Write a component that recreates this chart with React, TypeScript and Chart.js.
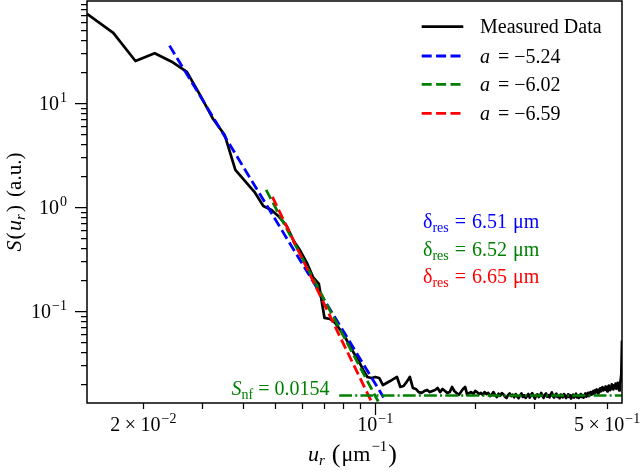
import { useEffect, useRef } from "react";
import { Chart, registerables } from "chart.js";

Chart.register(...registerables);

// Spatial-frequency grid: bin index k -> u = k * BIN_WIDTH (µm^-1)
const BIN_WIDTH = 0.002705;
const FIRST_BIN = 5;

// Measured radial power spectrum S(u_r), one value per frequency bin (k = 5 … 205)
const measuredS: number[] = [
  // k = 5 … 40
  71.7, 47.1, 25.3, 30.0, 24.9, 19.9, 11.7, 7.0, 4.92, 2.27,
  1.76, 1.39, 1.02, 0.935, 0.8, 0.656, 0.471, 0.377, 0.29, 0.212,
  0.182, 0.0857, 0.0838, 0.0767, 0.0656, 0.0562, 0.046, 0.0386, 0.033, 0.0271,
  0.0232, 0.0227, 0.0232, 0.0227, 0.0194, 0.0203,
  // k = 41 … 80
  0.0212, 0.0222, 0.0232, 0.0186, 0.019, 0.0208, 0.0232, 0.0182, 0.0178, 0.0166,
  0.0163, 0.017, 0.0174, 0.0166, 0.017, 0.0174, 0.0182, 0.0166, 0.0178, 0.017,
  0.0163, 0.0166, 0.0186, 0.017, 0.0163, 0.0156, 0.0166, 0.0178, 0.0186, 0.0156,
  0.0163, 0.0166, 0.0159, 0.017, 0.0166, 0.0159, 0.0163, 0.0156, 0.0166, 0.0159,
  // k = 81 … 120
  0.0163, 0.0152, 0.0157, 0.0166, 0.0155, 0.0149, 0.016, 0.0153, 0.0162, 0.0158,
  0.015, 0.0146, 0.0156, 0.0161, 0.0152, 0.0157, 0.0148, 0.0159, 0.0151, 0.0145,
  0.0154, 0.0161, 0.0149, 0.0155, 0.0146, 0.0152, 0.0159, 0.0147, 0.0156, 0.0162,
  0.0151, 0.0144, 0.0155, 0.0158, 0.0149, 0.0153, 0.0163, 0.0152, 0.0146, 0.0157,
  // k = 121 … 165
  0.0161, 0.015, 0.0155, 0.0148, 0.0158, 0.0165, 0.0151, 0.0147, 0.0156, 0.016,
  0.0149, 0.0153, 0.0145, 0.0157, 0.0152, 0.0148, 0.0159, 0.0154, 0.0146, 0.0151,
  0.0158, 0.0149, 0.0155, 0.0144, 0.0152, 0.0157, 0.0147, 0.0153, 0.016, 0.0148,
  0.0154, 0.0146, 0.0151, 0.0159, 0.0149, 0.0155, 0.0147, 0.0153, 0.0161, 0.015,
  0.0156, 0.0163, 0.0152, 0.0158, 0.0166,
  // k = 166 … 205
  0.0157, 0.0164, 0.017, 0.016, 0.0172, 0.0165, 0.0176, 0.0168, 0.0161, 0.0174,
  0.018, 0.0169, 0.0177, 0.0185, 0.0172, 0.0181, 0.0175, 0.0188, 0.0178, 0.0169,
  0.0184, 0.0192, 0.018, 0.0174, 0.0189, 0.0197, 0.0182, 0.0176, 0.0193, 0.0185,
  0.02, 0.0179, 0.0191, 0.0204, 0.0186, 0.0172, 0.0198, 0.0213, 0.0245, 0.052,
];

// Power-law fits S = C * u^a : slope, colour, anchor point (u, S) and end frequency
const fitSlopes = [-5.24, -6.02, -6.59];
const fitLabels = ["−5.24", "−6.02", "−6.59"];
const fitColors = ["#0000ff", "#008000", "#ff0000"];
const fitStartU = [0.02398, 0.0469, 0.04898];
const fitStartS = [35.56, 1.457, 1.248];
const fitEndU = [0.106, 0.1021, 0.0975];

// Resolution estimated from each fit
const resolutionLabels = ["6.51", "6.52", "6.65"];

// Noise floor
const NOISE_FLOOR = 0.0154;
const noiseFloorLabel = "0.0154";
const noiseFloorRange = [0.0779, 0.5545];

// Axis limits
const X_MIN = 0.013525;
const X_MAX = 0.5545;
const Y_MIN = 0.01304;
const Y_MAX = 95.5;

// Labelled ticks
const yTickValues = [0.1, 1, 10];
const yTickExponents = ["−1", "0", "1"];
const xTickValues = [0.02, 0.1, 0.5];
const xTickMantissas = ["2", "", "5"];
const xTickExponents = ["−2", "−1", "−1"];

const SERIF = '"Liberation Serif", "DejaVu Serif", serif';

type Seg = { t: string; it?: boolean; size?: number; dy?: number; gapL?: number; gapR?: number };

function fontOf(s: Seg) {
  return `${s.it ? "italic " : ""}${s.size ?? 20}px ${SERIF}`;
}

function segsWidth(ctx: CanvasRenderingContext2D, segs: Seg[]) {
  let w = 0;
  for (const s of segs) {
    ctx.font = fontOf(s);
    w += (s.gapL ?? 0) + ctx.measureText(s.t).width + (s.gapR ?? 0);
  }
  return w;
}

function drawSegs(
  ctx: CanvasRenderingContext2D,
  segs: Seg[],
  x: number,
  y: number,
  align: "left" | "center" | "right",
  color: string
) {
  const w = segsWidth(ctx, segs);
  let cx = align === "left" ? x : align === "center" ? x - w / 2 : x - w;
  ctx.fillStyle = color;
  ctx.textAlign = "left";
  ctx.textBaseline = "alphabetic";
  for (const s of segs) {
    ctx.font = fontOf(s);
    cx += s.gapL ?? 0;
    ctx.fillText(s.t, cx, y + (s.dy ?? 0));
    cx += ctx.measureText(s.t).width + (s.gapR ?? 0);
  }
}

function minorValues(min: number, max: number) {
  const out: number[] = [];
  for (let d = -3; d <= 2; d++) {
    for (let m = 1; m <= 9; m++) {
      const v = m * Math.pow(10, d);
      if (v >= min * 0.9999 && v <= max * 1.0001) out.push(v);
    }
  }
  return out;
}

const overlayPlugin = {
  id: "overlay",
  afterDraw(chart: any) {
    const { ctx, chartArea: a } = chart;
    const xs = chart.scales.x;
    const ys = chart.scales.y;
    ctx.save();

    // frame
    ctx.strokeStyle = "#000";
    ctx.lineWidth = 1.5;
    ctx.setLineDash([]);
    ctx.strokeRect(a.left, a.top, a.right - a.left, a.bottom - a.top);

    // ticks (outward)
    ctx.lineWidth = 1.25;
    ctx.beginPath();
    for (const v of minorValues(X_MIN, X_MAX)) {
      const px = Math.round(xs.getPixelForValue(v)) + 0.5;
      const major = Math.abs(Math.log10(v) - Math.round(Math.log10(v))) < 1e-6;
      ctx.moveTo(px, a.bottom);
      ctx.lineTo(px, a.bottom + (major ? 12 : 6));
    }
    for (const v of minorValues(Y_MIN, Y_MAX)) {
      const py = Math.round(ys.getPixelForValue(v)) + 0.5;
      const major = Math.abs(Math.log10(v) - Math.round(Math.log10(v))) < 1e-6;
      ctx.moveTo(a.left, py);
      ctx.lineTo(a.left - (major ? 12 : 6), py);
    }
    ctx.stroke();

    // y tick labels
    yTickValues.forEach((v, i) => {
      const py = ys.getPixelForValue(v);
      drawSegs(
        ctx,
        [{ t: "10" }, { t: yTickExponents[i], size: 14, dy: -8, gapL: 1 }],
        a.left - 20,
        py + 7,
        "right",
        "#000"
      );
    });

    // x tick labels
    xTickValues.forEach((v, i) => {
      const px = xs.getPixelForValue(v);
      const segs: Seg[] = [];
      if (xTickMantissas[i]) {
        segs.push({ t: xTickMantissas[i] });
        segs.push({ t: "×", gapL: 4.5, gapR: 4.5 });
      }
      segs.push({ t: "10" });
      segs.push({ t: xTickExponents[i], size: 14, dy: -8, gapL: 1 });
      drawSegs(ctx, segs, px, a.bottom + 28, "center", "#000");
    });

    // axis titles
    drawSegs(
      ctx,
      [
        { t: "u", it: true, size: 22 },
        { t: "r", it: true, size: 15, dy: 4 },
        { t: "(", size: 26, gapL: 7, dy: 1 },
        { t: "μm", size: 22, gapL: 1 },
        { t: "−1", size: 15, dy: -10, gapL: 1 },
        { t: ")", size: 26, gapL: 1, dy: 1 },
      ],
      (a.left + a.right) / 2 - 2,
      461,
      "center",
      "#000"
    );
    ctx.save();
    ctx.translate(21, (a.top + a.bottom) / 2);
    ctx.rotate(-Math.PI / 2);
    drawSegs(
      ctx,
      [
        { t: "S", it: true, size: 22, gapR: 1 },
        { t: "(", size: 22, gapR: 1 },
        { t: "u", it: true, size: 22 },
        { t: "r", it: true, size: 15, dy: 4, gapR: 2 },
        { t: ")", size: 22 },
        { t: "(a.u.)", size: 21, gapL: 8 },
      ],
      0,
      0,
      "center",
      "#000"
    );
    ctx.restore();

    // legend
    const legX0 = 421.7;
    const legX1 = 463.3;
    const rows = [26.7, 56, 84.3, 113.3];
    ctx.lineWidth = 2.8;
    ctx.lineCap = "butt";
    ctx.strokeStyle = "#000";
    ctx.setLineDash([]);
    ctx.beginPath();
    ctx.moveTo(legX0, rows[0]);
    ctx.lineTo(legX1, rows[0]);
    ctx.stroke();
    drawSegs(ctx, [{ t: "Measured Data" }], 480, rows[0] + 6.5, "left", "#000");
    fitColors.forEach((c, i) => {
      ctx.strokeStyle = c;
      ctx.setLineDash([10, 4.4]);
      ctx.beginPath();
      ctx.moveTo(legX0, rows[i + 1]);
      ctx.lineTo(legX1, rows[i + 1]);
      ctx.stroke();
      ctx.setLineDash([]);
      drawSegs(
        ctx,
        [
          { t: "a", it: true },
          { t: "=", gapL: 8, gapR: 5 },
          { t: fitLabels[i] },
        ],
        480,
        rows[i + 1] + 6.5,
        "left",
        "#000"
      );
    });

    // resolution annotations
    const resBase = [228, 255.5, 283];
    resolutionLabels.forEach((lab, i) => {
      drawSegs(
        ctx,
        [
          { t: "δ" },
          { t: "res", size: 14, dy: 4 },
          { t: "=", gapL: 6, gapR: 6 },
          { t: lab },
          { t: "μm", gapL: 6 },
        ],
        423,
        resBase[i],
        "left",
        fitColors[i]
      );
    });

    // noise-floor annotation
    drawSegs(
      ctx,
      [
        { t: "S", it: true },
        { t: "nf", size: 14, dy: 4 },
        { t: "=", gapL: 5, gapR: 5 },
        { t: noiseFloorLabel },
      ],
      231.5,
      395,
      "left",
      "#008000"
    );

    ctx.restore();
  },
};

export default function App() {
  const canvasRef = useRef<HTMLCanvasElement | null>(null);

  useEffect(() => {
    const canvas = canvasRef.current;
    if (!canvas) return;

    const measured = measuredS.map((s, i) => ({ x: (FIRST_BIN + i) * BIN_WIDTH, y: s }));

    const fitSets = fitSlopes.map((slope, i) => ({
      data: [
        { x: fitStartU[i], y: fitStartS[i] },
        { x: fitEndU[i], y: fitStartS[i] * Math.pow(fitEndU[i] / fitStartU[i], slope) },
      ],
      borderColor: fitColors[i],
      borderWidth: 2.8,
      borderDash: [10, 4.4],
      pointRadius: 0,
      showLine: true,
      clip: 0,
      order: 3 - i,
    }));

    const chart = new Chart(canvas, {
      type: "scatter",
      data: {
        datasets: [
          {
            data: measured,
            borderColor: "#000",
            borderWidth: 2.7,
            pointRadius: 0,
            showLine: true,
            tension: 0,
            clip: 0,
            order: 10,
          } as any,
          ...fitSets,
          {
            data: [
              { x: noiseFloorRange[0], y: NOISE_FLOOR },
              { x: noiseFloorRange[1], y: NOISE_FLOOR },
            ],
            borderColor: "#008000",
            borderWidth: 2.6,
            borderDash: [12.8, 3.2, 2, 3.2],
            pointRadius: 0,
            showLine: true,
            clip: 0,
            order: 0,
          } as any,
        ],
      },
      options: {
        responsive: false,
        animation: false,
        devicePixelRatio: 1,
        layout: { padding: { left: 87, right: 18, top: 1, bottom: 71 } },
        plugins: { legend: { display: false }, tooltip: { enabled: false } },
        scales: {
          x: { type: "logarithmic", min: X_MIN, max: X_MAX, display: false },
          y: { type: "logarithmic", min: Y_MIN, max: Y_MAX, display: false },
        },
        elements: { line: { borderJoinStyle: "round", borderCapStyle: "butt" } },
      },
      plugins: [overlayPlugin],
    } as any);

    return () => chart.destroy();
  }, []);

  return (
    <div style={{ position: "absolute", left: 0, top: 0, width: 640, height: 474, background: "#fff" }}>
      <canvas ref={canvasRef} width={640} height={474} style={{ display: "block" }} />
    </div>
  );
}
